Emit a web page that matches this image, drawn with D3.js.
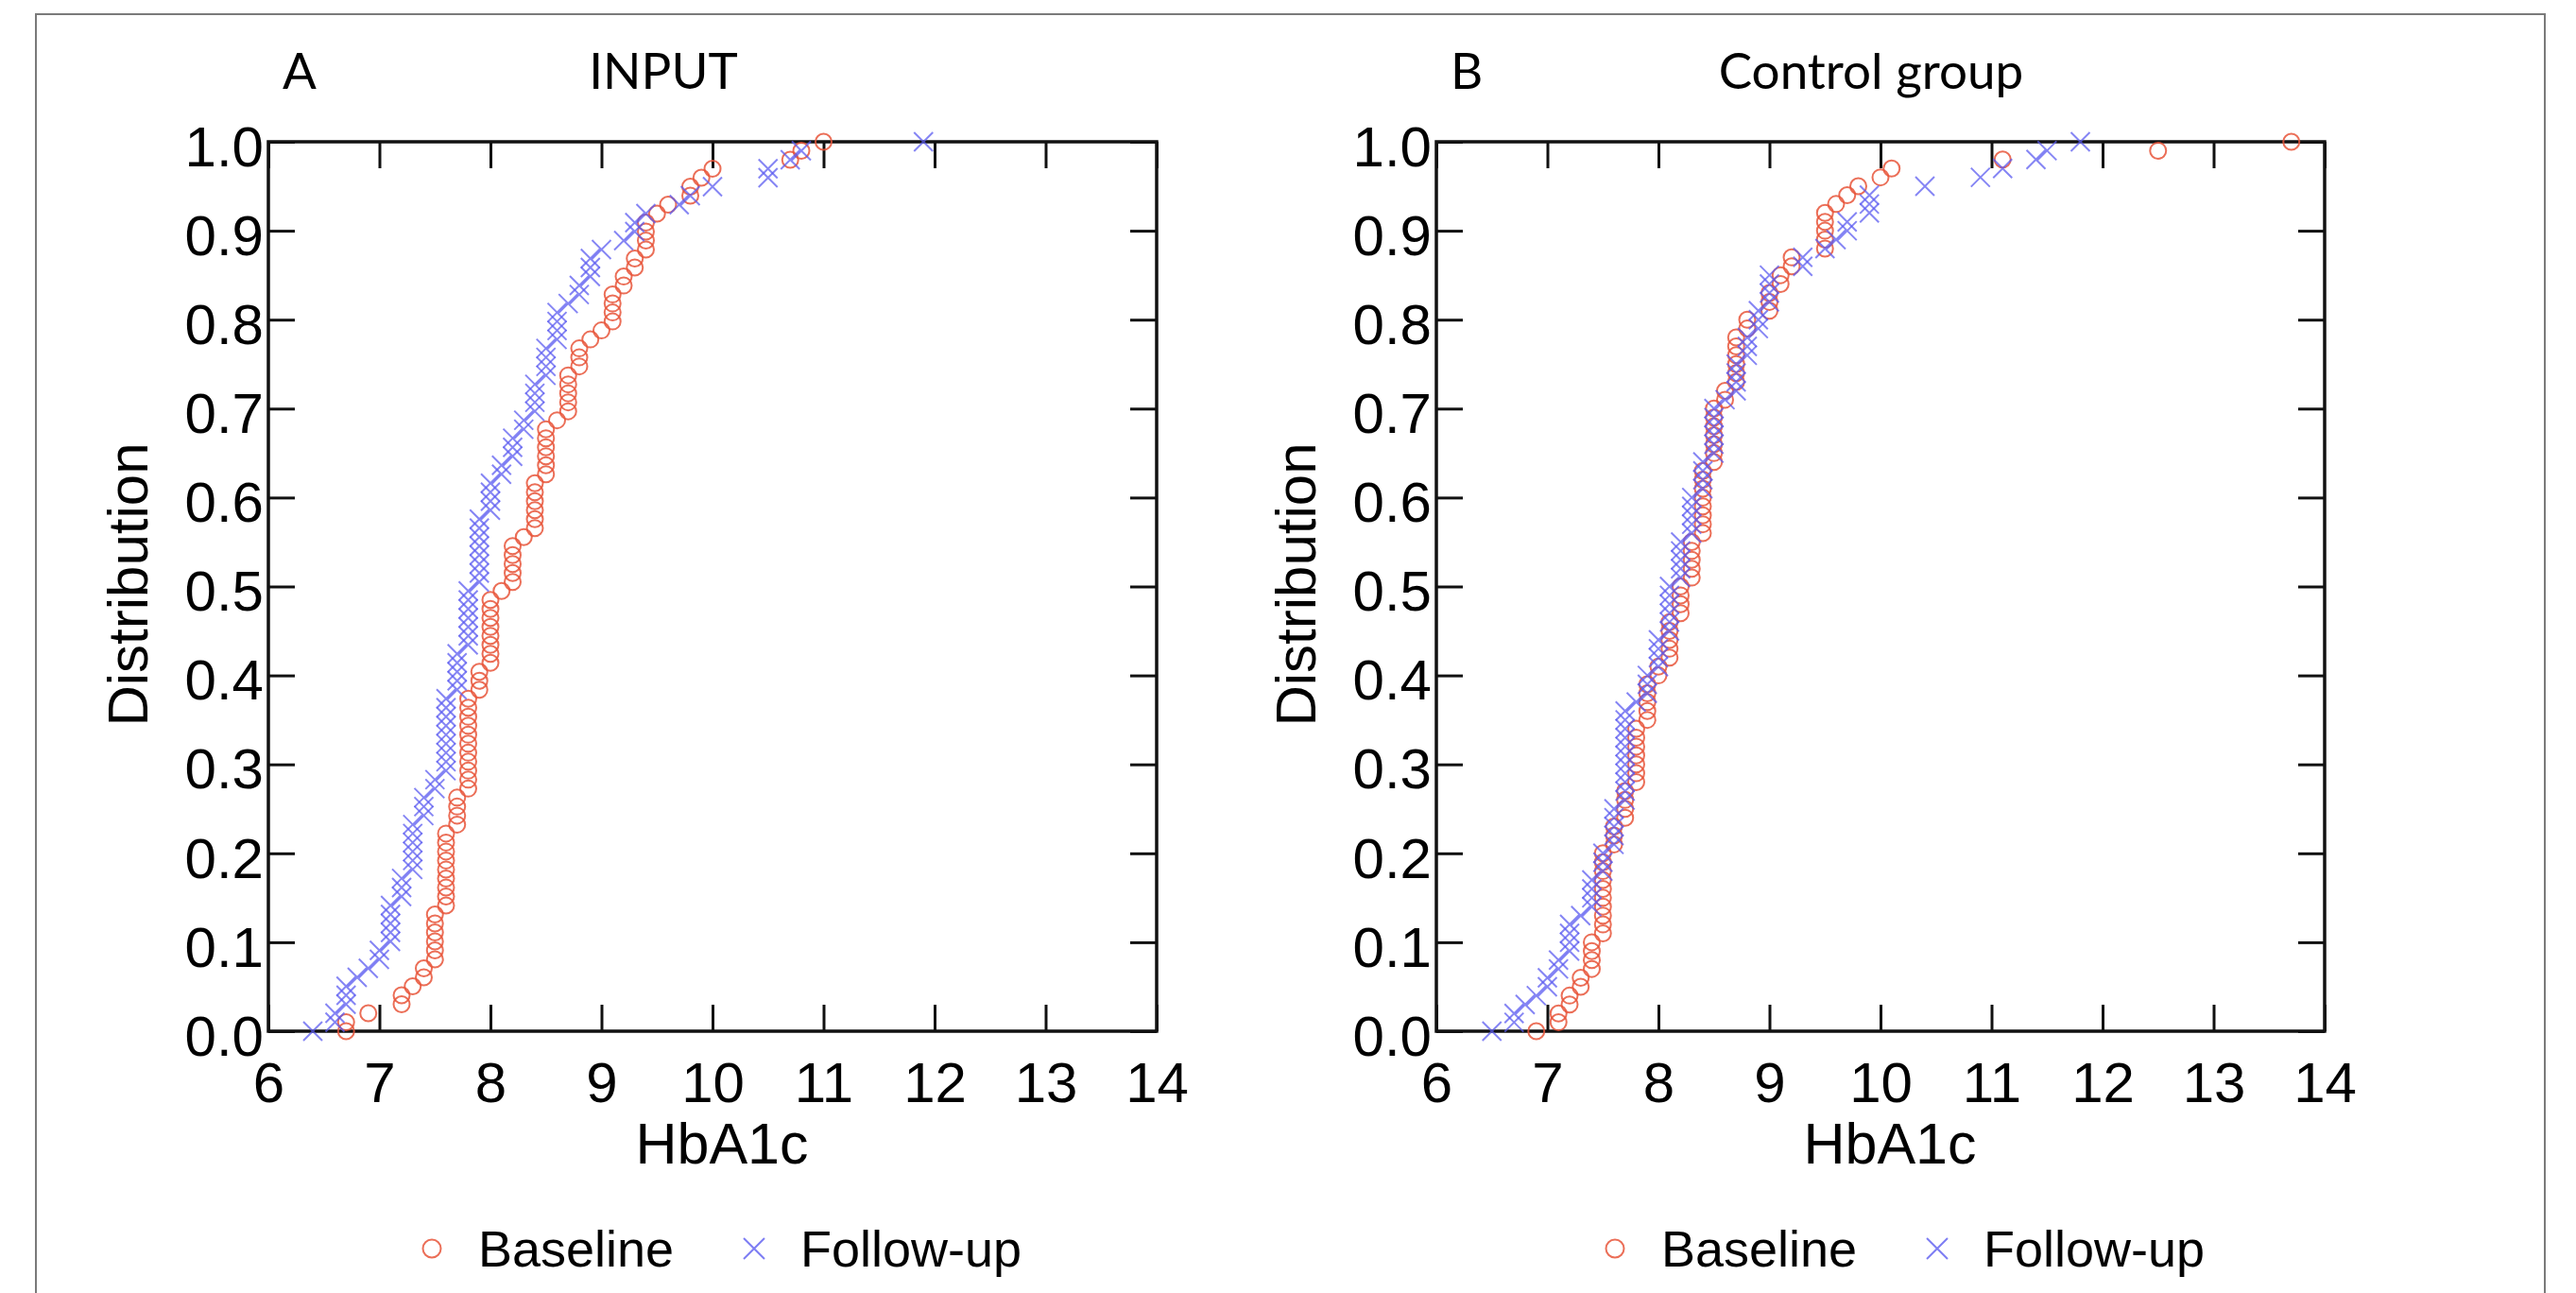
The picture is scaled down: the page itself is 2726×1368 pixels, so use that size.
<!DOCTYPE html>
<html lang="en">
<head>
<meta charset="utf-8">
<title>HbA1c distribution</title>
<script src="https://d3js.org/d3.v7.min.js"></script>
<style>
  body { margin: 0; background: #fff; }
  svg { display: block; }
</style>
</head>
<body>
<div id="chart"></div>
<script>
// axis ticks
const xTicks = [6, 7, 8, 9, 10, 11, 12, 13, 14];
const yTicks = [0, 0.1, 0.2, 0.3, 0.4, 0.5, 0.6, 0.7, 0.8, 0.9, 1.0];

// panel A (INPUT) - HbA1c values and how many patients share each value
const inputBaselineVals   = [6.7, 6.9, 7.2, 7.3, 7.4, 7.5, 7.6, 7.7, 7.8, 7.9, 8.0, 8.1, 8.2, 8.3, 8.4, 8.5, 8.6, 8.7, 8.8, 8.9, 9.0, 9.1, 9.2, 9.3, 9.4, 9.5, 9.6, 9.8, 9.9, 10.0, 10.7, 10.8, 11.0];
const inputBaselineCounts = [2,   1,   2,   1,   2,   6,   9,   4,   11,  3,   8,   1,   5,   1,   6,   6,   1,   5,   3,   1,   1,   4,   2,   2,   4,   1,   1,   2,   1,   1,    1,    1,    1];
const inputFollowVals     = [6.4, 6.6, 6.7, 6.8, 6.9, 7.0, 7.1, 7.2, 7.3, 7.4, 7.5, 7.6, 7.7, 7.8, 7.9, 8.0, 8.1, 8.2, 8.3, 8.4, 8.5, 8.6, 8.7, 8.8, 8.9, 9.0, 9.2, 9.3, 9.4, 9.7, 9.8, 10.0, 10.5, 10.7, 10.8, 11.9];
const inputFollowCounts   = [1,   2,   3,   1,   1,   2,   5,   3,   6,   3,   2,   9,   5,   7,   8,   4,   2,   3,   2,   4,   4,   4,   1,   2,   3,   1,   1,   2,   1,   1,   1,   1,    2,    1,    1,    1];

// panel B (Control group)
const controlBaselineVals   = [6.9, 7.1, 7.2, 7.3, 7.4, 7.5, 7.6, 7.7, 7.8, 7.9, 8.0, 8.1, 8.2, 8.3, 8.4, 8.5, 8.6, 8.7, 8.8, 9.0, 9.1, 9.2, 9.5, 9.6, 9.7, 9.8, 10.0, 10.1, 11.1, 12.5, 13.7];
const controlBaselineCounts = [1,   2,   2,   2,   4,   10,  3,   4,   7,   5,   2,   5,   4,   5,   8,   7,   2,   6,   2,   3,   2,   2,   5,   1,   1,   1,   1,    1,    1,    1,    1];
const controlFollowVals     = [6.5, 6.7, 6.8, 6.9, 7.0, 7.1, 7.2, 7.3, 7.4, 7.5, 7.6, 7.7, 7.8, 7.9, 8.0, 8.1, 8.2, 8.3, 8.4, 8.5, 8.6, 8.7, 8.8, 8.9, 9.0, 9.3, 9.5, 9.6, 9.7, 9.9, 10.4, 10.9, 11.1, 11.4, 11.5, 11.8];
const controlFollowCounts   = [1,   2,   1,   1,   2,   2,   4,   1,   4,   3,   5,   11,  1,   3,   4,   6,   5,   5,   4,   6,   1,   4,   3,   3,   4,   2,   1,   1,   2,   3,   1,    1,    1,    1,    1,    1];

const legendNames = ["Baseline", "Follow-up"];

const W = 2726, H = 1368;
const colBase = "#e8553a", colFollow = "#5c5cf0";

const svg = d3.select("#chart").append("svg")
  .attr("width", W).attr("height", H)
  .style("font-family", "'Liberation Sans', Arial, sans-serif");

// thin frame around the figure
svg.append("rect")
  .attr("x", 38).attr("y", 15)
  .attr("width", 2655).attr("height", 1400)
  .attr("fill", "none").attr("stroke", "#7a7a7a").attr("stroke-width", 2);

// turn value/count lists into empirical distribution points
function ecdf(vals, counts) {
  const all = [];
  vals.forEach((v, i) => { for (let k = 0; k < counts[i]; k++) all.push(v); });
  return all.map((v, i) => ({ x: v, y: i / (all.length - 1) }));
}

const panels = [
  { letter: "A", title: "INPUT", left: 284, titleX: 702, legendX: 457,
    base: ecdf(inputBaselineVals, inputBaselineCounts),
    follow: ecdf(inputFollowVals, inputFollowCounts) },
  { letter: "B", title: "Control group", left: 1520, titleX: 1980, legendX: 1709,
    base: ecdf(controlBaselineVals, controlBaselineCounts),
    follow: ecdf(controlFollowVals, controlFollowCounts) }
];

const plotTop = 150, pw = 940, ph = 941, tick = 28;
const crossPath = s => `M${-s},${-s}L${s},${s}M${-s},${s}L${s},${-s}`;

panels.forEach(p => {
  const g = svg.append("g").attr("transform", `translate(${p.left},${plotTop})`);

  const x = d3.scaleLinear().domain([6, 14]).range([0, pw]);
  const y = d3.scaleLinear().domain([0, 1]).range([ph, 0]);

  // axes, ticks pointing inwards on all four sides
  g.append("g").attr("transform", `translate(0,${ph})`)
    .call(d3.axisBottom(x).tickValues(xTicks).tickSize(-tick).tickSizeOuter(0).tickPadding(32));
  g.append("g")
    .call(d3.axisTop(x).tickValues(xTicks).tickSize(-tick).tickSizeOuter(0).tickFormat(""));
  const gy = g.append("g")
    .call(d3.axisLeft(y).tickValues(yTicks).tickSize(-tick).tickSizeOuter(0).tickPadding(5)
      .tickFormat(d3.format(".1f")));
  g.append("g").attr("transform", `translate(${pw},0)`)
    .call(d3.axisRight(y).tickValues(yTicks).tickSize(-tick).tickSizeOuter(0).tickFormat(""));

  g.selectAll(".domain").remove();
  g.selectAll(".tick line").attr("stroke", "#111").attr("stroke-width", 3);
  g.selectAll(".tick text")
    .attr("fill", "#000")
    .style("font-size", "60px")
    .style("font-family", "'Liberation Sans', Arial, sans-serif");
  gy.selectAll(".tick text").attr("dy", "0.42em");

  g.append("rect")
    .attr("width", pw).attr("height", ph)
    .attr("fill", "none").attr("stroke", "#111").attr("stroke-width", 3.5);

  // axis titles
  g.append("text")
    .attr("x", pw / 2 + 10).attr("y", ph + 140)
    .attr("text-anchor", "middle")
    .style("font-size", "61px")
    .text("HbA1c");
  g.append("text")
    .attr("transform", `translate(${-128},${ph / 2 - 2}) rotate(-90)`)
    .attr("text-anchor", "middle")
    .style("font-size", "60px")
    .text("Distribution");

  // panel letter and title
  svg.append("text")
    .attr("x", p.left + 15).attr("y", 94)
    .style("font-family", "Lato, 'Open Sans', sans-serif")
    .style("font-size", "53px")
    .text(p.letter);
  svg.append("text")
    .attr("x", p.titleX).attr("y", 94)
    .attr("text-anchor", "middle")
    .style("font-family", "Lato, 'Open Sans', sans-serif")
    .style("font-size", "53px")
    .text(p.title);

  // points: baseline circles under follow-up crosses
  g.append("g").selectAll("circle")
    .data(p.base)
    .join("circle")
      .attr("cx", d => x(d.x))
      .attr("cy", d => y(d.y))
      .attr("r", 8.5)
      .attr("fill", "none")
      .attr("stroke", colBase)
      .attr("stroke-opacity", 0.85)
      .attr("stroke-width", 2);

  g.append("g").selectAll("path")
    .data(p.follow)
    .join("path")
      .attr("transform", d => `translate(${x(d.x)},${y(d.y)})`)
      .attr("d", crossPath(10))
      .attr("fill", "none")
      .attr("stroke", colFollow)
      .attr("stroke-opacity", 0.75)
      .attr("stroke-width", 2);

  // legend
  const lg = svg.append("g").attr("transform", `translate(${p.legendX},1321)`);
  lg.append("circle").attr("r", 9.5)
    .attr("fill", "none").attr("stroke", colBase).attr("stroke-opacity", 0.85).attr("stroke-width", 2);
  lg.append("text").attr("x", 49).attr("y", 19)
    .style("font-size", "54px").text(legendNames[0]);
  lg.append("path").attr("transform", "translate(341,0)")
    .attr("d", crossPath(11))
    .attr("fill", "none").attr("stroke", colFollow).attr("stroke-opacity", 0.8).attr("stroke-width", 2);
  lg.append("text").attr("x", 390).attr("y", 19)
    .style("font-size", "54px").text(legendNames[1]);
});
</script>
</body>
</html>
